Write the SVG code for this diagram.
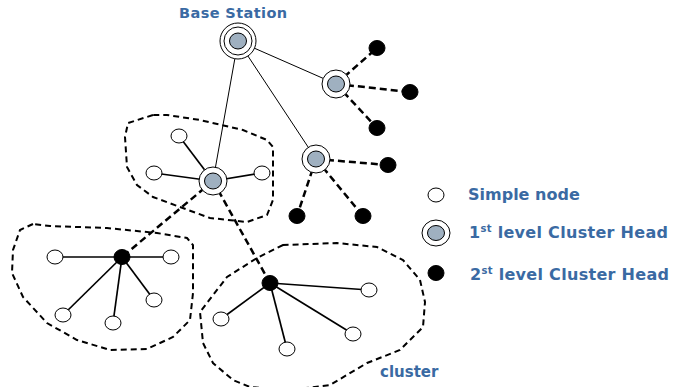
<svg xmlns="http://www.w3.org/2000/svg" width="687" height="387" viewBox="0 0 687 387">
<style>
.lbl{font-family:"DejaVu Sans",Verdana,sans-serif;font-weight:bold;fill:#3a6aa3}
.sn{fill:#fff;stroke:#000;stroke-width:1}
.bn{fill:#000;stroke:#000;stroke-width:1}
.ring{fill:#fff;stroke:#000;stroke-width:1}
.core{fill:#9fb0c0;stroke:#000;stroke-width:1}
.solid{stroke:#000;stroke-width:1;fill:none}
.link{stroke:#000;stroke-width:1.7;fill:none}
.dash{stroke:#000;stroke-width:2.5;fill:none;stroke-dasharray:7 4}
.bound{stroke:#000;stroke-width:2;fill:none;stroke-dasharray:6 4}
</style>
<rect width="687" height="387" fill="#fff"/>
<g id="clusters">
<path class="bound" d="M153,115 L128,123 L125,137 L127,167 L137,185 L153,197 L180,207 L210,218 L247,222 L267,215 L273,200 L273,147 L267,140 L243,130 L200,120 L167,115 Z"/>
<path class="bound" d="M33,224 L20,230 L13,250 L12,273 L23,297 L47,323 L77,340 L110,350 L147,349 L173,337 L190,320 L193,293 L193,245 L187,238 L157,233 L107,228 L50,226 Z"/>
<path class="bound" d="M283,245 L257,258 L227,277 L200,312 L203,343 L213,363 L233,380 L250,387 L290,390 L330,385 L367,363 L400,350 L423,327 L425,302 L420,280 L403,260 L377,247 L337,243 Z"/>
</g>
<g id="connectors">
<line class="solid" x1="238" y1="41" x2="336" y2="84"/>
<line class="solid" x1="238" y1="41" x2="316" y2="159"/>
<line class="solid" x1="238" y1="41" x2="213" y2="181"/>
<line class="dash" x1="336" y1="84" x2="377" y2="48"/>
<line class="dash" x1="336" y1="84" x2="410" y2="92"/>
<line class="dash" x1="336" y1="84" x2="377" y2="128"/>
<line class="dash" x1="316" y1="159" x2="388" y2="165"/>
<line class="dash" x1="316" y1="159" x2="297" y2="216"/>
<line class="dash" x1="316" y1="159" x2="363" y2="216"/>
<line class="link" x1="213" y1="181" x2="179" y2="136"/>
<line class="link" x1="213" y1="181" x2="154" y2="173"/>
<line class="link" x1="213" y1="181" x2="262" y2="173"/>
<line class="dash" x1="213" y1="181" x2="122" y2="257"/>
<line class="dash" x1="213" y1="181" x2="270" y2="283"/>
<line class="link" x1="122" y1="257" x2="55" y2="257"/>
<line class="link" x1="122" y1="257" x2="171" y2="257"/>
<line class="link" x1="122" y1="257" x2="154" y2="300"/>
<line class="link" x1="122" y1="257" x2="113" y2="323"/>
<line class="link" x1="122" y1="257" x2="63" y2="315"/>
<line class="link" x1="270" y1="283" x2="369" y2="290"/>
<line class="link" x1="270" y1="283" x2="221" y2="319"/>
<line class="link" x1="270" y1="283" x2="287" y2="349"/>
<line class="link" x1="270" y1="283" x2="353" y2="334"/>
</g>
<g id="base-station">
<circle class="ring" cx="238" cy="41" r="18"/>
<circle class="ring" cx="238" cy="41" r="14"/>
<ellipse class="core" cx="238" cy="41" rx="8.5" ry="8"/>
<text class="lbl" x="179" y="18" font-size="14.5" letter-spacing="0.4">Base Station</text>
</g>
<g id="ch1-right"><circle class="ring" cx="336" cy="84" r="14"/><ellipse class="core" cx="336" cy="84" rx="8.5" ry="8"/></g>
<g id="ch1-middle"><circle class="ring" cx="316" cy="159" r="14"/><ellipse class="core" cx="316" cy="159" rx="8.5" ry="8"/></g>
<g id="ch1-left"><circle class="ring" cx="213" cy="181" r="14"/><ellipse class="core" cx="213" cy="181" rx="8.5" ry="8"/></g>
<g id="black-nodes">
<ellipse class="bn" cx="377" cy="48" rx="8" ry="7.5"/>
<ellipse class="bn" cx="410" cy="92" rx="8" ry="7.5"/>
<ellipse class="bn" cx="377" cy="128" rx="8" ry="7.5"/>
<ellipse class="bn" cx="388" cy="165" rx="8" ry="7.5"/>
<ellipse class="bn" cx="297" cy="216" rx="8" ry="7.5"/>
<ellipse class="bn" cx="363" cy="216" rx="8" ry="7.5"/>
</g>
<g id="cluster1-nodes">
<ellipse class="sn" cx="179" cy="136" rx="8" ry="7"/>
<ellipse class="sn" cx="154" cy="173" rx="8" ry="7"/>
<ellipse class="sn" cx="262" cy="173" rx="8" ry="7"/>
</g>
<g id="cluster2">
<ellipse class="bn" cx="122" cy="257" rx="8" ry="7.5"/>
<ellipse class="sn" cx="55" cy="257" rx="8" ry="7"/>
<ellipse class="sn" cx="171" cy="257" rx="8" ry="7"/>
<ellipse class="sn" cx="154" cy="300" rx="8" ry="7"/>
<ellipse class="sn" cx="113" cy="323" rx="8" ry="7"/>
<ellipse class="sn" cx="63" cy="315" rx="8" ry="7"/>
</g>
<g id="cluster3">
<ellipse class="bn" cx="270" cy="283" rx="8" ry="7.5"/>
<ellipse class="sn" cx="369" cy="290" rx="8" ry="7"/>
<ellipse class="sn" cx="221" cy="319" rx="8" ry="7"/>
<ellipse class="sn" cx="287" cy="349" rx="8" ry="7"/>
<ellipse class="sn" cx="353" cy="334" rx="8" ry="7"/>
<text class="lbl" x="380" y="377" font-size="15">cluster</text>
</g>
<g id="legend">
<ellipse class="sn" cx="436" cy="195" rx="8" ry="7"/>
<text class="lbl" x="468" y="200" font-size="16">Simple node</text>
<ellipse class="ring" cx="436" cy="233" rx="14" ry="13"/>
<ellipse class="core" cx="436" cy="233" rx="8.5" ry="7.5"/>
<text class="lbl" x="469" y="238" font-size="16" letter-spacing="0.3">1<tspan font-size="10" dy="-6">st</tspan><tspan dy="6"> level Cluster Head</tspan></text>
<ellipse class="bn" cx="436" cy="273" rx="8" ry="7.5"/>
<text class="lbl" x="470" y="280" font-size="16" letter-spacing="0.3">2<tspan font-size="10" dy="-6">st</tspan><tspan dy="6"> level Cluster Head</tspan></text>
</g>
</svg>
